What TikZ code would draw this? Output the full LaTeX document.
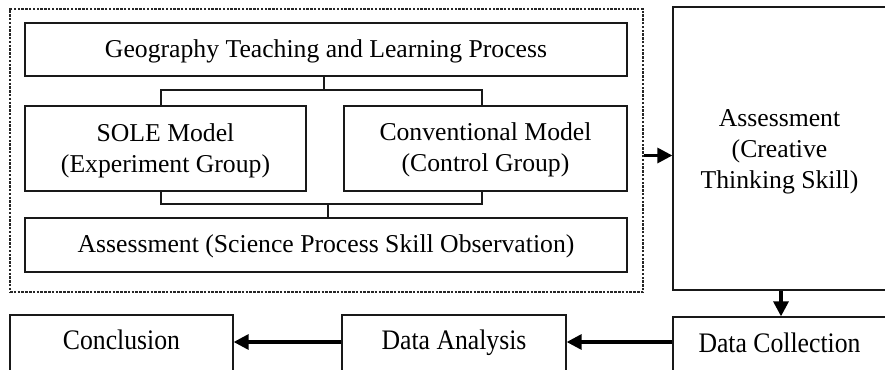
\documentclass[tikz,border=0pt]{standalone}
\usepackage{fontspec}
\usepackage{graphicx}
\setmainfont{Liberation Serif}
\usetikzlibrary{arrows.meta}
\tikzset{
  box/.style={draw=black!90, line width=1.3pt, rectangle, inner sep=0pt, align=center,
    font=\fontsize{25.7}{31}\selectfont},
  dashbox/.style={draw=black!85, line width=1.2pt, dash pattern=on 2.5pt off 1.3pt, rectangle, inner sep=0pt},
  conn/.style={draw=black!90, line width=1.3pt},
  arr/.style={draw=black, line width=3.2pt, -{Triangle[length=15pt,width=15pt]}},
}
% lower the text (#1) inside its box, keeping the box dimensions
\newcommand{\dn}[2]{\raisebox{-#1}[\height][\depth]{\begin{tabular}{@{}c@{}}#2\end{tabular}}}
\newcommand{\tall}[1]{\scalebox{1}[1.1]{#1}}
\begin{document}
\begin{tikzpicture}[x=1pt,y=-1pt]
\useasboundingbox (0,0) rectangle (885,369);
\clip (0,0) rectangle (885,369);
% group frame
\node[dashbox, minimum width=633pt, minimum height=283pt] (outer) at (326.5,150.5) {};
\node[box, minimum width=602pt, minimum height=53pt] (top) at (326,49.5) {\dn{2.1pt}{Geography Teaching and Learning Process}};
\node[box, minimum width=281pt, minimum height=85pt] (sole) at (165.5,148.5) {\dn{2.2pt}{SOLE Model\\(Experiment Group)}};
\node[box, minimum width=283pt, minimum height=85pt] (conv) at (485.5,148.5) {\dn{1.5pt}{Conventional Model\\(Control Group)}};
\node[box, minimum width=602pt, minimum height=54pt] (assess) at (326,245) {\dn{1.1pt}{Assessment (Science Process Skill Observation)}};
% right column
\node[box, minimum width=217pt, minimum height=283pt] (right) at (781.5,148.5) {\hspace*{-4pt}\dn{3pt}{Assessment\\(Creative\\Thinking Skill)}};
\node[box, minimum width=217pt, minimum height=56pt] (dc) at (781.5,345) {\hspace*{-4pt}\dn{1.5pt}{\tall{Data Collection}}};
\node[box, minimum width=224pt, minimum height=56pt] (da) at (454,343) {\dn{0pt}{\tall{Data Analysis}}};
\node[box, minimum width=223pt, minimum height=56pt] (concl) at (121.5,343) {\dn{0pt}{\tall{Conclusion}}};
% junction coordinates
\coordinate (j1) at (324,90);
\coordinate (j2) at (328,204);
\coordinate (xs) at (161,0);
\coordinate (xc) at (482,0);
\coordinate (ay) at (0,155.5);
\coordinate (ax) at (781,0);
\coordinate (by) at (0,342);
% tree connectors
\draw[conn] (top.south -| j1) -- (j1);
\draw[conn] (sole.north -| xs) |- (j1) -| (conv.north -| xc);
\draw[conn] (sole.south -| xs) |- (j2) -| (conv.south -| xc);
\draw[conn] (j2) -- (assess.north -| j2);
% arrows
\draw[arr] (outer.east |- ay) -- (right.west |- ay);
\draw[arr] (right.south -| ax) -- (dc.north -| ax);
\draw[arr] (dc.west |- by) -- (da.east |- by);
\draw[arr] (da.west |- by) -- (concl.east |- by);
\end{tikzpicture}
\end{document}
